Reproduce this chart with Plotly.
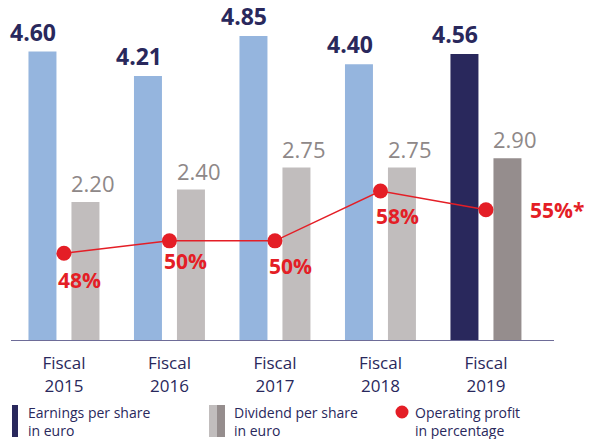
import plotly.graph_objects as go

# ---- data ----
years = ["2015", "2016", "2017", "2018", "2019"]
categories = ["Fiscal<br>" + y for y in years]
eps = [4.60, 4.21, 4.85, 4.40, 4.56]
dividend = [2.20, 2.40, 2.75, 2.75, 2.90]
payout = [48, 50, 50, 58, 55]
payout_labels = ["48%", "50%", "50%", "58%", "55%*"]
legend_labels = ["Earnings per share<br>in euro", "Dividend per share<br>in euro",
                 "Operating profit<br>in percentage"]

eps_labels = [f"{v:.2f}" for v in eps]
div_labels = [f"{v:.2f}" for v in dividend]

# ---- styles ----
NAVY = "#29285c"
LIGHT_BLUE = "#95b5de"
LIGHT_GRAY = "#c1bdbd"
DARK_GRAY = "#958d8d"
RED = "#e41e26"
LABEL_GRAY = "#8e8888"
FONT = "Open Sans"

W, H = 592, 439
ML, MR, MT, MB = 11, 38, 0, 99
PW, PH = W - ML - MR, H - MT - MB

eps_colors = [LIGHT_BLUE] * (len(years) - 1) + [NAVY]
div_colors = [LIGHT_GRAY] * (len(years) - 1) + [DARK_GRAY]

fig = go.Figure()
fig.add_trace(go.Bar(x=categories, y=eps, marker=dict(color=eps_colors, line_width=0),
                     name="Earnings per share in euro", showlegend=False, hoverinfo="skip"))
fig.add_trace(go.Bar(x=categories, y=dividend, marker=dict(color=div_colors, line_width=0),
                     name="Dividend per share in euro", showlegend=False, hoverinfo="skip"))
fig.add_trace(go.Scatter(x=categories, y=payout, yaxis="y2", mode="lines+markers",
                         line=dict(color=RED, width=1.5),
                         marker=dict(color=RED, size=15),
                         name="Operating profit in percentage", showlegend=False, hoverinfo="skip"))

annotations = []
for c, v, t in zip(categories, eps, eps_labels):
    annotations.append(dict(x=c, y=v, xref="x", yref="y", text=f"<b>{t}</b>", showarrow=False,
                            xanchor="right", yanchor="bottom", xshift=-5.5, yshift=2,
                            font=dict(family=FONT, size=23, color=NAVY)))
for c, v, t in zip(categories, dividend, div_labels):
    annotations.append(dict(x=c, y=v, xref="x", yref="y", text=t, showarrow=False,
                            xanchor="left", yanchor="bottom", xshift=5.5, yshift=2,
                            font=dict(family=FONT, size=22, color=LABEL_GRAY)))

label_dx = [16, 16, 16, 17, 71]
label_dy = [-27, -20, -25, -25, 0]
for c, v, t, dx, dy in zip(categories, payout, payout_labels, label_dx, label_dy):
    annotations.append(dict(x=c, y=v, xref="x", yref="y2", text=f"<b>{t}</b>", showarrow=False,
                            xanchor="center", yanchor="middle", xshift=dx, yshift=dy,
                            font=dict(family=FONT, size=21, color=RED)))


def px_x(p):
    return (p - ML) / PW


def px_y(p):
    return (MT + PH - p) / PH


legend_x = [26, 232, 413]
for x0, txt in zip(legend_x, legend_labels):
    annotations.append(dict(x=px_x(x0), y=px_y(421.5), xref="paper", yref="paper",
                            text=txt, showarrow=False, xanchor="left", yanchor="middle",
                            align="left",
                            font=dict(family=FONT, size=14, color=NAVY)))

shapes = [
    dict(type="rect", xref="paper", yref="paper", x0=px_x(12), x1=px_x(18),
         y0=px_y(437), y1=px_y(405), fillcolor=NAVY, line_width=0),
    dict(type="rect", xref="paper", yref="paper", x0=px_x(209), x1=px_x(217),
         y0=px_y(437), y1=px_y(405), fillcolor=LIGHT_GRAY, line_width=0),
    dict(type="rect", xref="paper", yref="paper", x0=px_x(217), x1=px_x(225),
         y0=px_y(437), y1=px_y(405), fillcolor=DARK_GRAY, line_width=0),
    dict(type="circle", xref="paper", yref="paper", x0=px_x(395.5), x1=px_x(408.5),
         y0=px_y(418.5), y1=px_y(405.5), fillcolor=RED, line_width=0),
]

fig.update_layout(
    width=W, height=H,
    margin=dict(l=ML, r=MR, t=MT, b=MB),
    paper_bgcolor="white", plot_bgcolor="white",
    barmode="group", bargap=0.185, bargroupgap=0.349,
    showlegend=False,
    xaxis=dict(type="category", range=[-0.502, 4.645], showline=True, linecolor="#6e6c98",
               linewidth=1, ticks="", showgrid=False, zeroline=False, fixedrange=True,
               ticklabelstandoff=8,
               tickfont=dict(family=FONT, size=17, color=NAVY)),
    yaxis=dict(range=[0, 5.423], visible=False, showgrid=False, zeroline=False),
    yaxis2=dict(range=[34.08, 88.66], overlaying="y", visible=False, showgrid=False,
                zeroline=False),
    annotations=annotations,
    shapes=shapes,
)

fig.write_html(
    "out.html",
    config={"displayModeBar": False},
    post_script="document.body.style.margin='0';document.body.style.overflow='hidden';",
)
